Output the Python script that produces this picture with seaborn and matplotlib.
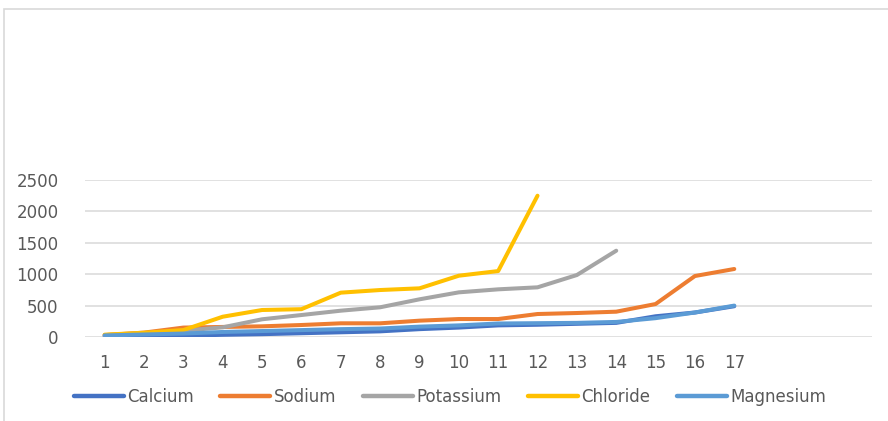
import numpy as np
import pandas as pd
import matplotlib
matplotlib.use("Agg")
import matplotlib.pyplot as plt
from matplotlib.patches import Rectangle
import seaborn as sns

# Sample index on the category axis
samples = list(range(1, 18))

calcium = [10, 15, 20, 35, 45, 60, 75, 90, 125, 150, 185, 195, 210, 225, 330, 390, 490]
sodium = [30, 70, 150, 160, 170, 191, 218, 218, 260, 286, 286, 366, 382, 403, 525, 971, 1083]
potassium = [30, 60, 100, 154, 282, 350, 419, 473, 600, 711, 759, 791, 987, 1374]
chloride = [37, 68, 111, 323, 430, 443, 706, 748, 775, 976, 1050, 2250]
magnesium = [25, 40, 55, 80, 95, 110, 125, 135, 165, 185, 215, 220, 225, 240, 300, 390, 500]

series_names = ["Calcium", "Sodium", "Potassium", "Chloride", "Magnesium"]
series_values = [calcium, sodium, potassium, chloride, magnesium]
colors = ["#4472C4", "#ED7D31", "#A5A5A5", "#FFC000", "#5B9BD5"]

y_ticks = [0, 500, 1000, 1500, 2000, 2500]

frames = []
for name, vals in zip(series_names, series_values):
    frames.append(pd.DataFrame({"Sample": samples[:len(vals)], "Value": vals, "Ion": name}))
df = pd.concat(frames, ignore_index=True)

sns.set_theme(style="white")
plt.rcParams["font.family"] = ["DejaVu Sans"]

W, H = 888, 421
fig = plt.figure(figsize=(W / 100, H / 100), dpi=100)
ax = fig.add_axes([85 / W, (H - 337) / H, (872 - 85) / W, (337 - 180) / H])

sns.lineplot(data=df, x="Sample", y="Value", hue="Ion", hue_order=series_names,
             palette=colors, estimator=None, sort=False, linewidth=2.9,
             solid_capstyle="round", solid_joinstyle="round", ax=ax, legend=True)

ax.set_xlim(0.5, 20.5)
ax.set_ylim(0, 2500)
ax.set_xticks(samples)
ax.set_xticklabels([str(s) for s in samples])
ax.set_yticks(y_ticks)
ax.set_yticklabels([str(v) for v in y_ticks])
ax.set_xlabel("")
ax.set_ylabel("")
ax.grid(axis="y", color="#D9D9D9", linewidth=1.1)
ax.grid(axis="x", visible=False)
ax.set_axisbelow(True)
for sp in ax.spines.values():
    sp.set_visible(False)
ax.tick_params(axis="both", length=0, labelsize=12, colors="#595959")
ax.tick_params(axis="y", pad=19)
ax.tick_params(axis="x", pad=12)

handles, labels = ax.get_legend_handles_labels()
ax.legend_.remove()
for h in handles:
    h.set_linewidth(3.2)
    h.set_solid_capstyle("round")
fig.legend(handles, labels, loc="center", bbox_to_anchor=(450 / W, 1 - 397 / H),
           ncol=5, frameon=False, fontsize=12, handlelength=3.0, handletextpad=0.2,
           columnspacing=1.6, labelcolor="#595959")

# chart frame (top and left edges)
fig.patches.append(Rectangle((4 / W, -0.1), 1.2, (H - 9) / H + 0.1,
                             transform=fig.transFigure, fill=False,
                             edgecolor="#D9D9D9", linewidth=1.2))

fig.savefig("out.png", dpi=100)
